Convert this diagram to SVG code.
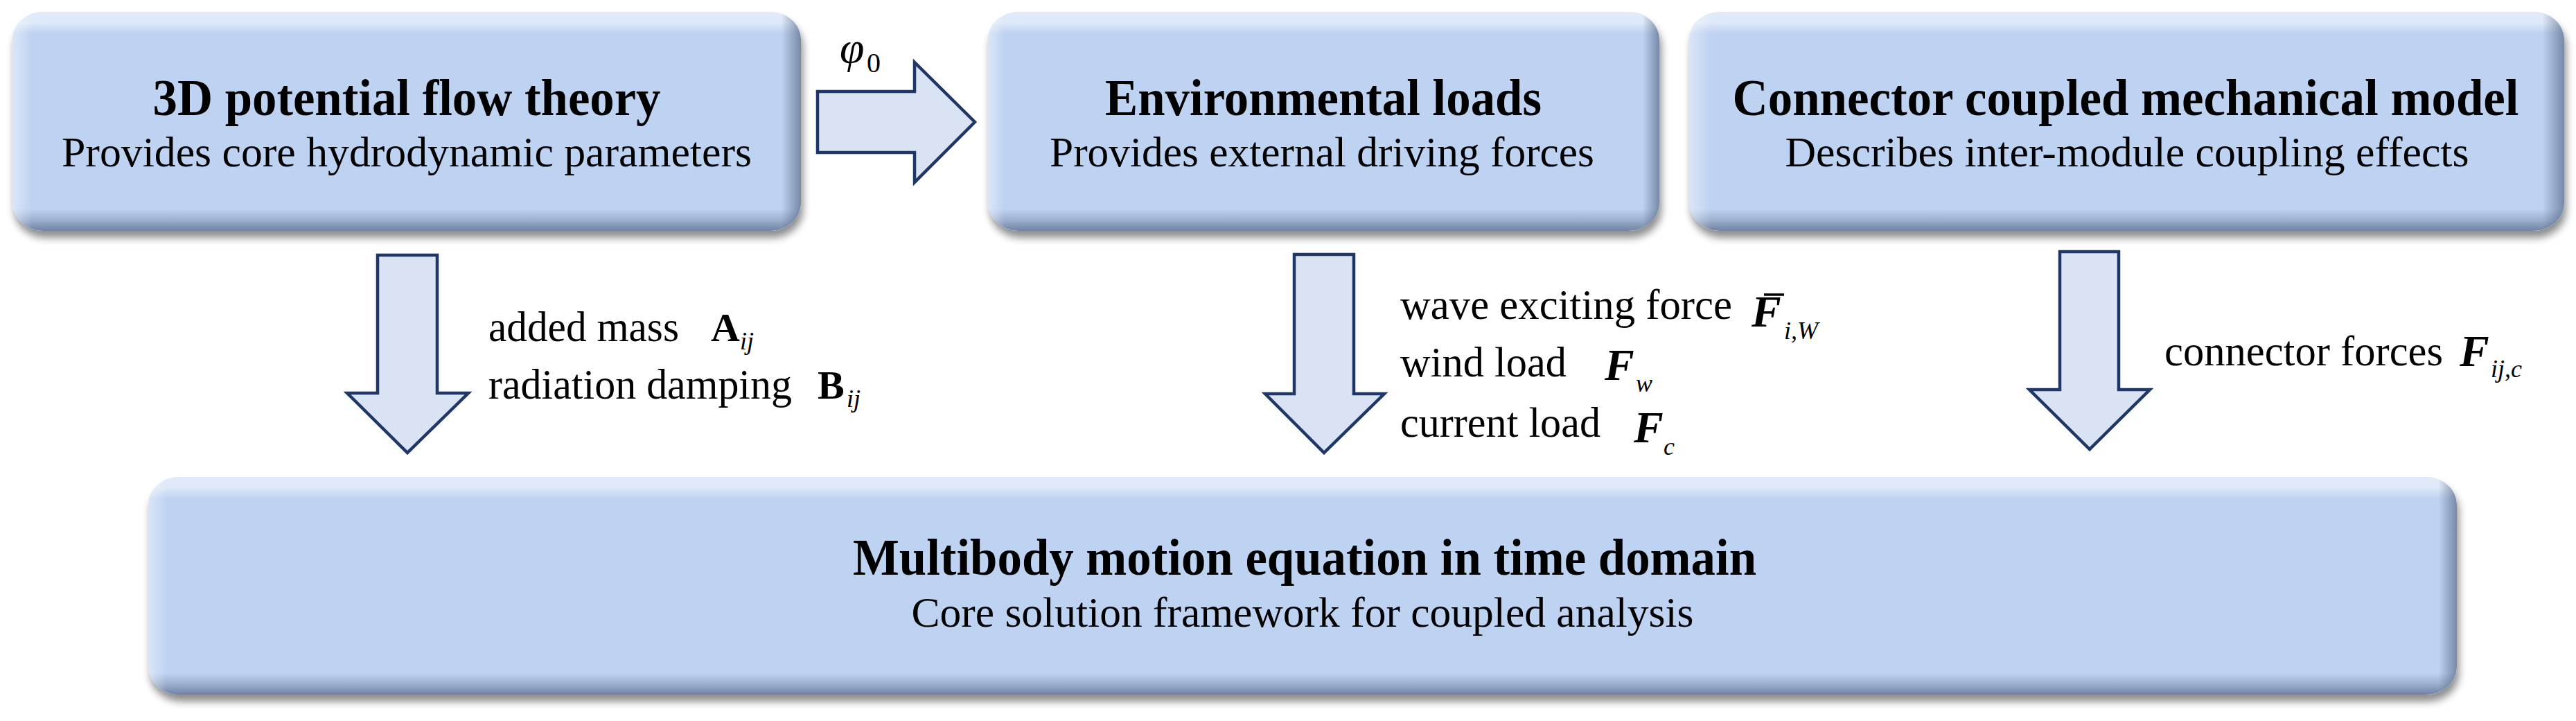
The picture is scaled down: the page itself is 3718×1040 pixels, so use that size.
<svg xmlns="http://www.w3.org/2000/svg" width="3718" height="1040" viewBox="0 0 3718 1040">
  <style>
    .title { font-family: "Liberation Serif", "Times New Roman", serif; font-weight: bold; font-size: 75px; fill: #000; }
    .sub { font-family: "Liberation Serif", "Times New Roman", serif; font-size: 62px; fill: #000; }
    .lbl { font-family: "Liberation Serif", "Times New Roman", serif; font-size: 61px; fill: #000; }
    .mb { font-family: "Liberation Serif", "Times New Roman", serif; font-weight: bold; font-size: 58px; fill: #000; }
    .mi { font-family: "Liberation Serif", "Times New Roman", serif; font-weight: bold; font-style: italic; font-size: 64px; fill: #000; }
    .ms { font-family: "Liberation Serif", "Times New Roman", serif; font-style: italic; font-size: 36px; fill: #000; }
    .phi { font-family: "Liberation Serif", "Times New Roman", serif; font-style: italic; font-size: 64px; fill: #000; }
    .sub0 { font-family: "Liberation Serif", "Times New Roman", serif; font-size: 40px; fill: #000; }
    .arrow { fill: #DAE3F3; stroke: #1F3767; stroke-width: 4.5; stroke-linejoin: miter; }
    .box { fill: #BED2F1; filter: url(#shadow); }
  </style>
  <defs>
    <filter id="shadow" x="-5%" y="-10%" width="110%" height="125%">
      <feGaussianBlur in="SourceAlpha" stdDeviation="6"/>
      <feOffset dx="3" dy="10" result="b"/>
      <feComponentTransfer><feFuncA type="linear" slope="0.45"/></feComponentTransfer>
      <feMerge><feMergeNode/><feMergeNode in="SourceGraphic"/></feMerge>
    </filter>
    <linearGradient id="gv" x1="0" y1="0" x2="0" y2="1">
      <stop offset="0" stop-color="#ffffff" stop-opacity="0.55"/>
      <stop offset="0.05" stop-color="#ffffff" stop-opacity="0.5"/>
      <stop offset="0.10" stop-color="#ffffff" stop-opacity="0"/>
      <stop offset="0.90" stop-color="#3b4d6b" stop-opacity="0"/>
      <stop offset="0.95" stop-color="#3b4d6b" stop-opacity="0.25"/>
      <stop offset="1" stop-color="#3b4d6b" stop-opacity="0.6"/>
    </linearGradient>
    <linearGradient id="ghTop" x1="0" y1="0" x2="1" y2="0">
      <stop offset="0" stop-color="#ffffff" stop-opacity="0.45"/>
      <stop offset="0.025" stop-color="#ffffff" stop-opacity="0"/>
      <stop offset="0.975" stop-color="#3b4d6b" stop-opacity="0"/>
      <stop offset="1" stop-color="#3b4d6b" stop-opacity="0.55"/>
    </linearGradient>
    <linearGradient id="ghBot" x1="0" y1="0" x2="1" y2="0">
      <stop offset="0" stop-color="#ffffff" stop-opacity="0.45"/>
      <stop offset="0.008" stop-color="#ffffff" stop-opacity="0"/>
      <stop offset="0.992" stop-color="#3b4d6b" stop-opacity="0"/>
      <stop offset="1" stop-color="#3b4d6b" stop-opacity="0.55"/>
    </linearGradient>
  </defs>
  <rect width="3718" height="1040" fill="#ffffff"/>

  <g id="node-potential-flow">
    <rect class="box" x="18" y="17" width="1138" height="316" rx="45" ry="40"/>
    <rect x="18" y="17" width="1138" height="316" rx="45" ry="40" fill="url(#gv)"/>
    <rect x="18" y="17" width="1138" height="316" rx="45" ry="40" fill="url(#ghTop)"/>
    <text class="title" x="587" y="166" text-anchor="middle" textLength="733" lengthAdjust="spacingAndGlyphs">3D potential flow theory</text>
    <text class="sub" x="587" y="240" text-anchor="middle" textLength="996" lengthAdjust="spacingAndGlyphs">Provides core hydrodynamic parameters</text>
  </g>

  <g id="node-environmental-loads">
    <rect class="box" x="1426" y="17" width="969" height="316" rx="45" ry="40"/>
    <rect x="1426" y="17" width="969" height="316" rx="45" ry="40" fill="url(#gv)"/>
    <rect x="1426" y="17" width="969" height="316" rx="45" ry="40" fill="url(#ghTop)"/>
    <text class="title" x="1910" y="166" text-anchor="middle" textLength="630" lengthAdjust="spacingAndGlyphs">Environmental loads</text>
    <text class="sub" x="1908" y="240" text-anchor="middle" textLength="786" lengthAdjust="spacingAndGlyphs">Provides external driving forces</text>
  </g>

  <g id="node-connector-model">
    <rect class="box" x="2438" y="17" width="1263" height="316" rx="45" ry="40"/>
    <rect x="2438" y="17" width="1263" height="316" rx="45" ry="40" fill="url(#gv)"/>
    <rect x="2438" y="17" width="1263" height="316" rx="45" ry="40" fill="url(#ghTop)"/>
    <text class="title" x="3068" y="166" text-anchor="middle" textLength="1135" lengthAdjust="spacingAndGlyphs">Connector coupled mechanical model</text>
    <text class="sub" x="3070" y="240" text-anchor="middle" textLength="987" lengthAdjust="spacingAndGlyphs">Describes inter-module coupling effects</text>
  </g>

  <g id="node-multibody">
    <rect class="box" x="214" y="688" width="3332" height="314" rx="45" ry="40"/>
    <rect x="214" y="688" width="3332" height="314" rx="45" ry="40" fill="url(#gv)"/>
    <rect x="214" y="688" width="3332" height="314" rx="45" ry="40" fill="url(#ghBot)"/>
    <text class="title" x="1883" y="829" text-anchor="middle" textLength="1304" lengthAdjust="spacingAndGlyphs">Multibody motion equation in time domain</text>
    <text class="sub" x="1880" y="904" text-anchor="middle" textLength="1129" lengthAdjust="spacingAndGlyphs">Core solution framework for coupled analysis</text>
  </g>

  <g id="connectors">
    <g id="conn-potential-to-env">
      <path class="arrow" d="M1180,132 L1320,132 L1320,90 L1407,176 L1320,263 L1320,220 L1180,220 Z"/>
      <text class="phi" x="1212" y="90">φ</text>
      <text class="sub0" x="1251" y="104">0</text>
    </g>
    <g id="conn-potential-to-multibody">
      <path class="arrow" d="M545,368 L631,368 L631,567 L676,567 L588,653 L501,567 L545,567 Z"/>
      <text class="lbl" x="705" y="492" textLength="275" lengthAdjust="spacingAndGlyphs">added mass</text>
      <text class="mb" x="1026" y="492">A</text>
      <text class="ms" x="1068" y="504">ij</text>
      <text class="lbl" x="705" y="575" textLength="438" lengthAdjust="spacingAndGlyphs">radiation damping</text>
      <text class="mb" x="1180" y="575">B</text>
      <text class="ms" x="1222" y="587">ij</text>
    </g>
    <g id="conn-env-to-multibody">
      <path class="arrow" d="M1868,367 L1954,367 L1954,568 L1998,568 L1911,653 L1826,568 L1868,568 Z"/>
      <text class="lbl" x="2021" y="460" textLength="479" lengthAdjust="spacingAndGlyphs">wave exciting force</text>
      <text class="mi" x="2528" y="471">F</text>
      <line x1="2546" y1="425" x2="2575" y2="425" stroke="#000" stroke-width="3.5"/>
      <text class="ms" x="2575" y="489">i,W</text>
      <text class="lbl" x="2021" y="543" textLength="240" lengthAdjust="spacingAndGlyphs">wind load</text>
      <text class="mi" x="2316" y="548">F</text>
      <text class="ms" x="2361" y="565">w</text>
      <text class="lbl" x="2021" y="630" textLength="289" lengthAdjust="spacingAndGlyphs">current load</text>
      <text class="mi" x="2358" y="638">F</text>
      <text class="ms" x="2401" y="656">c</text>
    </g>
    <g id="conn-connector-to-multibody">
      <path class="arrow" d="M2973,363 L3058,363 L3058,562 L3103,562 L3016,648 L2929,562 L2973,562 Z"/>
      <text class="lbl" x="3124" y="527" textLength="402" lengthAdjust="spacingAndGlyphs">connector forces</text>
      <text class="mi" x="3550" y="528">F</text>
      <text class="ms" x="3595" y="544">ij,c</text>
    </g>
  </g>
</svg>
